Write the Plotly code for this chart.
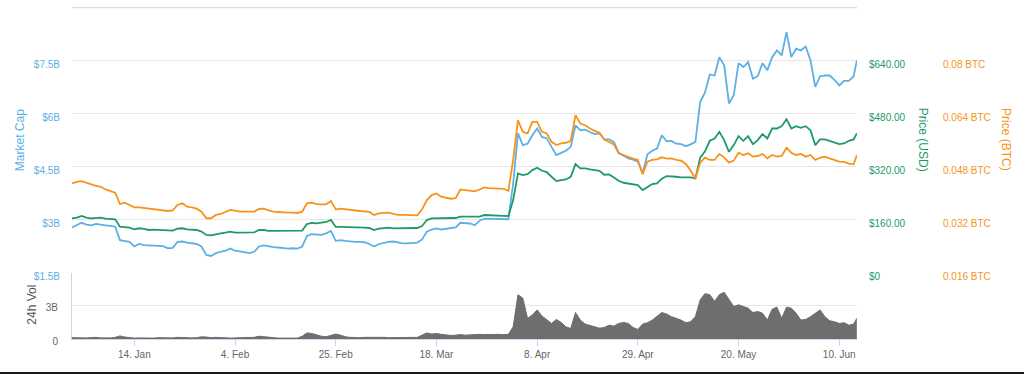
import pandas as pd
import plotly.graph_objects as go

# ---------------- data ----------------
dates = list(pd.date_range("2019-01-01", periods=164, freq="D")) + [pd.Timestamp("2019-06-13 16:00")]

market_cap_b = [
    2.78, 2.85, 2.91, 2.86, 2.84, 2.88, 2.85, 2.84, 2.82, 2.80,
    2.42, 2.39, 2.37, 2.24, 2.31, 2.28, 2.27, 2.28, 2.27, 2.25,
    2.19, 2.20, 2.37, 2.38, 2.35, 2.34, 2.31, 2.24, 2.00, 1.97,
    2.05, 2.09, 2.12, 2.18, 2.12, 2.10, 2.07, 2.05, 2.09, 2.24,
    2.27, 2.24, 2.22, 2.21, 2.19, 2.18, 2.19, 2.18, 2.24, 2.54,
    2.59, 2.57, 2.57, 2.61, 2.68, 2.40, 2.42, 2.40, 2.38, 2.37,
    2.37, 2.36, 2.31, 2.24, 2.31, 2.35, 2.37, 2.38, 2.35, 2.33,
    2.33, 2.33, 2.35, 2.44, 2.66, 2.72, 2.75, 2.72, 2.74, 2.74,
    2.78, 2.91, 2.91, 2.89, 2.84, 2.97, 3.03, 3.03, 3.03, 3.02,
    3.02, 3.01, 4.02, 5.44, 5.11, 5.15, 5.39, 5.58, 5.34, 5.30,
    5.06, 4.83, 4.89, 4.95, 5.06, 5.67, 5.53, 5.55, 5.48, 5.42,
    5.44, 5.27, 5.27, 5.20, 4.89, 4.80, 4.73, 4.70, 4.64, 4.31,
    4.85, 4.95, 5.01, 5.39, 5.22, 5.23, 5.15, 5.14, 5.08, 5.13,
    5.20, 6.33, 6.60, 7.11, 7.08, 7.60, 7.37, 6.29, 6.52, 7.43,
    7.32, 7.46, 6.99, 7.06, 7.43, 7.23, 7.60, 7.79, 7.65, 8.31,
    7.60, 7.84, 7.79, 7.90, 7.51, 6.76, 7.06, 7.08, 7.08, 6.96,
    6.80, 6.93, 6.93, 7.06, 7.51,
]

price_usd = [
    163.9, 165.9, 170.9, 165.9, 163.9, 163.9, 165.9, 162.9, 162.9, 160.8,
    138.7, 136.8, 135.7, 130.7, 133.8, 131.7, 128.6, 129.8, 128.6, 127.7,
    125.8, 126.7, 132.8, 133.8, 130.7, 130.7, 128.6, 123.7, 113.6, 112.6,
    116.6, 118.7, 120.6, 123.7, 120.6, 120.6, 120.6, 119.7, 121.6, 128.6,
    128.6, 125.8, 125.8, 124.6, 124.6, 124.6, 124.6, 124.6, 126.7, 146.7,
    149.8, 148.8, 149.8, 152.8, 158.9, 137.8, 137.8, 137.8, 136.8, 136.8,
    136.8, 135.7, 134.7, 128.6, 132.8, 134.7, 135.7, 133.6, 133.6, 132.6,
    132.6, 133.6, 134.6, 140.6, 158.7, 163.7, 163.7, 162.7, 163.7, 163.7,
    164.8, 168.8, 168.8, 167.8, 166.7, 168.8, 173.8, 172.8, 171.8, 171.8,
    171.8, 170.7, 219.0, 299.4, 294.4, 297.3, 309.4, 316.5, 307.4, 303.4,
    289.3, 276.3, 279.4, 281.3, 289.3, 327.5, 314.4, 314.4, 311.5, 309.4,
    307.5, 295.4, 296.3, 287.4, 277.3, 271.2, 269.3, 268.3, 264.3, 249.1,
    259.2, 267.2, 269.3, 283.4, 291.4, 289.3, 289.3, 287.4, 287.4, 287.4,
    284.3, 347.0, 366.0, 397.9, 405.0, 425.0, 399.8, 364.6, 384.8, 411.8,
    397.9, 411.8, 387.8, 399.8, 417.9, 405.0, 435.0, 435.0, 442.1, 463.2,
    435.0, 442.1, 437.0, 442.1, 429.9, 384.8, 401.9, 401.9, 397.9, 393.8,
    387.8, 389.8, 397.9, 401.9, 420.0,
]

price_btc = [
    0.0429, 0.0434, 0.0436, 0.0431, 0.0426, 0.0422, 0.0419, 0.0411, 0.0406, 0.0401,
    0.0367, 0.0371, 0.0364, 0.0357, 0.0357, 0.0355, 0.0354, 0.0353, 0.0351, 0.0348,
    0.0346, 0.0348, 0.0364, 0.0369, 0.0359, 0.0357, 0.0353, 0.0344, 0.0324, 0.0324,
    0.0334, 0.0337, 0.0344, 0.0349, 0.0347, 0.0344, 0.0344, 0.0343, 0.0344, 0.0352,
    0.0353, 0.0348, 0.0344, 0.0343, 0.0341, 0.0341, 0.0341, 0.0340, 0.0344, 0.0369,
    0.0371, 0.0367, 0.0366, 0.0366, 0.0376, 0.0351, 0.0353, 0.0351, 0.0348, 0.0347,
    0.0346, 0.0345, 0.0343, 0.0334, 0.0339, 0.0340, 0.0341, 0.0337, 0.0334, 0.0334,
    0.0333, 0.0333, 0.0333, 0.0351, 0.0379, 0.0394, 0.0399, 0.0389, 0.0385, 0.0383,
    0.0385, 0.0411, 0.0409, 0.0408, 0.0405, 0.0411, 0.0417, 0.0415, 0.0414, 0.0413,
    0.0413, 0.0407, 0.0500, 0.0620, 0.0585, 0.0580, 0.0615, 0.0615, 0.0585, 0.0580,
    0.0555, 0.0545, 0.0550, 0.0552, 0.0558, 0.0635, 0.0610, 0.0605, 0.0595, 0.0588,
    0.0582, 0.0562, 0.0555, 0.0547, 0.0520, 0.0514, 0.0508, 0.0504, 0.0500, 0.0457,
    0.0495, 0.0500, 0.0502, 0.0508, 0.0504, 0.0505, 0.0500, 0.0498, 0.0488, 0.0468,
    0.0444, 0.0492, 0.0507, 0.0500, 0.0500, 0.0518, 0.0508, 0.0492, 0.0498, 0.0522,
    0.0515, 0.0520, 0.0510, 0.0512, 0.0518, 0.0505, 0.0515, 0.0510, 0.0512, 0.0537,
    0.0522, 0.0515, 0.0518, 0.0510, 0.0515, 0.0500, 0.0507, 0.0510, 0.0505, 0.0500,
    0.0495, 0.0494, 0.0489, 0.0487, 0.0515,
]

volume_b = [
    0.12, 0.10, 0.12, 0.10, 0.12, 0.15, 0.10, 0.08, 0.10, 0.15,
    0.28, 0.18, 0.10, 0.08, 0.10, 0.08, 0.06, 0.08, 0.12, 0.10,
    0.08, 0.10, 0.15, 0.12, 0.08, 0.10, 0.12, 0.20, 0.18, 0.12,
    0.15, 0.12, 0.10, 0.08, 0.10, 0.12, 0.10, 0.12, 0.15, 0.25,
    0.20, 0.12, 0.10, 0.08, 0.08, 0.06, 0.06, 0.08, 0.25, 0.55,
    0.50, 0.35, 0.25, 0.20, 0.35, 0.45, 0.35, 0.20, 0.15, 0.12,
    0.12, 0.15, 0.15, 0.20, 0.18, 0.15, 0.12, 0.12, 0.10, 0.15,
    0.15, 0.12, 0.15, 0.35, 0.55, 0.45, 0.50, 0.42, 0.35, 0.32,
    0.35, 0.40, 0.35, 0.38, 0.38, 0.42, 0.40, 0.42, 0.45, 0.42,
    0.40, 0.42, 1.10, 4.00, 3.70, 1.87, 2.17, 2.63, 2.08, 1.71,
    1.41, 1.77, 1.50, 1.10, 0.95, 2.39, 1.71, 1.35, 1.22, 1.10,
    0.98, 1.04, 1.25, 1.16, 1.41, 1.50, 1.41, 1.04, 0.86, 1.35,
    1.47, 1.71, 2.02, 2.39, 2.26, 2.02, 1.87, 1.71, 1.47, 1.56,
    2.02, 3.55, 4.10, 4.01, 3.40, 4.01, 4.22, 3.61, 2.94, 3.09,
    2.94, 2.78, 2.39, 2.48, 2.33, 1.71, 2.69, 2.88, 1.87, 2.88,
    2.78, 2.33, 1.71, 1.77, 2.02, 2.33, 2.63, 2.02, 1.65, 1.56,
    1.41, 1.47, 1.25, 1.35, 1.87,
]

x_range = ["2019-01-01", "2019-06-13 16:48"]
tick_dates = ["2019-01-14", "2019-02-04", "2019-02-25", "2019-03-18",
              "2019-04-08", "2019-04-29", "2019-05-20", "2019-06-10"]
tick_text = ["14. Jan", "4. Feb", "25. Feb", "18. Mar", "8. Apr", "29. Apr", "20. May", "10. Jun"]

mc_ticks = [1.5, 3, 4.5, 6, 7.5, 9]
mc_text = ["$1.5B", "$3B", "$4.5B", "$6B", "$7.5B", ""]
usd_ticks = [0, 160, 320, 480, 640]
usd_text = ["$0", "$160.00", "$320.00", "$480.00", "$640.00"]
btc_ticks = [0.016, 0.032, 0.048, 0.064, 0.08]
btc_text = ["0.016 BTC", "0.032 BTC", "0.048 BTC", "0.064 BTC", "0.08 BTC"]
vol_ticks = [0, 3, 6]
vol_text = ["0", "3B", ""]

# ---------------- style ----------------
BLUE = "#5cb0e6"
GREEN = "#1d9a68"
ORANGE = "#f7931a"
GRAY = "#6e6e6e"
GRID = "#e6e6e6"
AXIS = "#ccd6eb"
FONT = "Liberation Sans, Arial, sans-serif"

fig = go.Figure()
fig.add_trace(go.Scatter(x=dates, y=market_cap_b, mode="lines", name="Market Cap",
                         line=dict(color=BLUE, width=1.8), xaxis="x", yaxis="y"))
fig.add_trace(go.Scatter(x=dates, y=price_usd, mode="lines", name="Price (USD)",
                         line=dict(color=GREEN, width=1.8), xaxis="x", yaxis="y2"))
fig.add_trace(go.Scatter(x=dates, y=price_btc, mode="lines", name="Price (BTC)",
                         line=dict(color=ORANGE, width=1.8), xaxis="x", yaxis="y3"))
fig.add_trace(go.Scatter(x=dates, y=volume_b, mode="lines", name="24h Vol",
                         line=dict(color=GRAY, width=1), fill="tozeroy", fillcolor=GRAY,
                         xaxis="x2", yaxis="y4"))

fig.update_layout(
    width=1024, height=374,
    margin=dict(l=72, r=167, t=7, b=35, autoexpand=False),
    paper_bgcolor="white", plot_bgcolor="white",
    showlegend=False,
    font=dict(family=FONT, size=10, color="#666666"),
    xaxis=dict(domain=[0, 1], anchor="y", range=x_range, showticklabels=False, automargin=False,
               showgrid=False, zeroline=False, showline=False, matches="x2"),
    xaxis2=dict(domain=[0, 1], anchor="y4", range=x_range, tickvals=tick_dates, ticktext=tick_text,
                showgrid=False, zeroline=False, showline=True, linecolor=AXIS, linewidth=1,
                ticks="outside", ticklen=6, tickcolor=AXIS, automargin=False,
                tickfont=dict(family=FONT, size=10, color="#666666")),
    yaxis=dict(domain=[0.2, 1], anchor="x", range=[1.5, 9.02], tickvals=mc_ticks, ticktext=mc_text,
               showgrid=True, gridcolor=GRID, zeroline=False, showline=False, ticks="",
               tickfont=dict(family=FONT, size=10, color=BLUE), automargin=False,
               ticklabelstandoff=11, ticklabelshift=4),
    yaxis2=dict(overlaying="y", side="right", anchor="x", range=[0, 801.8],
                tickvals=usd_ticks, ticktext=usd_text, showgrid=False, zeroline=False,
                showline=False, ticks="", tickfont=dict(family=FONT, size=10, color=GREEN),
                automargin=False, ticklabelstandoff=11, ticklabelshift=4),
    yaxis3=dict(overlaying="y", side="right", anchor="free", position=1, shift=74,
                range=[0.016, 0.09618], tickvals=btc_ticks, ticktext=btc_text,
                showgrid=False, zeroline=False, showline=False, ticks="", automargin=False,
                tickfont=dict(family=FONT, size=10, color=ORANGE),
                ticklabelstandoff=11, ticklabelshift=4),
    yaxis4=dict(domain=[0, 0.2], anchor="x2", range=[0, 6], tickvals=vol_ticks, ticktext=vol_text,
                showgrid=True, gridcolor=GRID, zeroline=False, showline=True, linecolor=AXIS,
                linewidth=1, ticks="", tickfont=dict(family=FONT, size=10, color="#666666"),
                automargin=False, ticklabelstandoff=11, ticklabelshift=2),
)

annotations = [
    dict(text="Market Cap", x=-0.0662, y=0.599, textangle=-90, color=BLUE),
    dict(text="24h Vol", x=-0.0503, y=0.102, textangle=-90, color="#555555"),
    dict(text="Price (USD)", x=1.0834, y=0.599, textangle=90, color=GREEN),
    dict(text="Price (BTC)", x=1.19, y=0.602, textangle=90, color=ORANGE),
]
for a in annotations:
    fig.add_annotation(text=a["text"], x=a["x"], y=a["y"], xref="paper", yref="paper",
                       textangle=a["textangle"], showarrow=False, xanchor="center", yanchor="middle",
                       font=dict(family=FONT, size=12, color=a["color"]))

# top gridline of the price panel (at the $9B tick)
fig.add_shape(type="line", xref="paper", x0=0, x1=1, yref="y", y0=mc_ticks[-1], y1=mc_ticks[-1],
              line=dict(color="#dddddd", width=1.2), layer="below")

# dark strip along the bottom edge of the screenshot
fig.add_shape(type="rect", xref="paper", yref="paper", x0=-0.2, x1=1.3, y0=-0.13, y1=-0.0994,
              fillcolor="#1a1a1a", line=dict(width=0), layer="above")

# pin the chart to the page's top-left corner (no default body margin)
pin_js = ("document.body.style.margin='0';document.body.style.overflow='hidden';"
          "var d=document.getElementById('{plot_id}');"
          "d.style.position='fixed';d.style.left='0px';d.style.top='0px';")

fig.write_html("out.html", post_script=pin_js, config={"displayModeBar": False})
